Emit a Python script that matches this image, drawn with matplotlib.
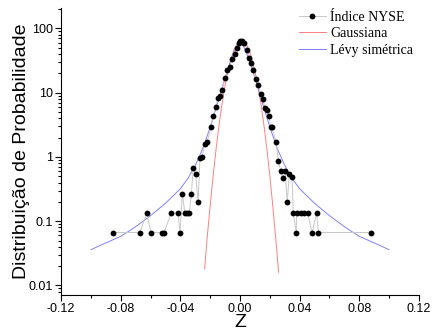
import numpy as np
import matplotlib
matplotlib.use("Agg")
import matplotlib.pyplot as plt
from matplotlib.ticker import FixedLocator, MultipleLocator, LogLocator, NullFormatter

# NYSE index returns: histogram points
z_nyse = [-0.0853, -0.0672, -0.0625, -0.0597, -0.0523, -0.0509, -0.0462, -0.0416,
          -0.0402, -0.0387, -0.0369, -0.0353, -0.0340, -0.0326, -0.0313, -0.0297,
          -0.0281, -0.0268, -0.0255, -0.0235, -0.0220, -0.0194, -0.0179, -0.0163,
          -0.0145, -0.0134, -0.0119, -0.0101, -0.0085, -0.0069, -0.0052, -0.0036,
          -0.0022, -0.0009, 0.0000, 0.0015, 0.0029, 0.0049, 0.0062, 0.0074,
          0.0089, 0.0105, 0.0123, 0.0139, 0.0152, 0.0168, 0.0179, 0.0194,
          0.0206, 0.0214, 0.0241, 0.0257, 0.0273, 0.0286, 0.0302, 0.0317,
          0.0330, 0.0349, 0.0357, 0.0377, 0.0380, 0.0407, 0.0429, 0.0454,
          0.0483, 0.0513, 0.0526, 0.0875]
p_nyse = [0.0667, 0.0667, 0.133, 0.0667, 0.0667, 0.0667, 0.133, 0.133,
          0.0667, 0.267, 0.133, 0.133, 0.133, 0.267, 0.68, 0.54,
          0.2, 0.97, 1.0, 1.58, 1.73, 2.97, 4.35, 6.1,
          8.4, 8.9, 11.0, 16.8, 22.2, 25.5, 33.3, 39.9,
          49.5, 59.0, 64.0, 63.0, 59.0, 46.4, 35.3, 28.7,
          22.6, 16.4, 13.1, 9.6, 8.1, 5.74, 5.4, 4.4,
          2.97, 2.9, 1.73, 0.87, 0.61, 0.47, 0.61, 0.2,
          0.54, 0.48, 0.133, 0.0667, 0.133, 0.133, 0.133, 0.133,
          0.0667, 0.133, 0.0667, 0.0667]

# Gaussian curve, values
z_gauss = [-0.0237, -0.022, -0.020, -0.018, -0.016, -0.014, -0.012, -0.010,
           -0.008, -0.006, -0.004, -0.002, 0.000, 0.002, 0.004, 0.006,
           0.008, 0.010, 0.012, 0.014, 0.016, 0.018, 0.020, 0.022,
           0.024, 0.0259]
p_gauss = [0.018, 0.056, 0.174, 0.51, 1.35, 3.2, 6.8, 12.9,
           22.0, 34.0, 46.7, 57.5, 64.5, 64.0, 57.9, 47.0,
           33.9, 21.6, 12.9, 6.8, 3.19, 1.35, 0.51, 0.17,
           0.053, 0.016]

# symmetric Levy curve
z_levy = [-0.100, -0.090, -0.080, -0.070, -0.060, -0.050, -0.040, -0.035,
          -0.030, -0.025, -0.020, -0.0175, -0.015, -0.0125, -0.010, -0.0075,
          -0.005, -0.0025, 0.000, 0.0025, 0.005, 0.0075, 0.010, 0.0125,
          0.015, 0.0175, 0.020, 0.025, 0.030, 0.035, 0.040, 0.050,
          0.060, 0.070, 0.080, 0.090, 0.100]
p_levy = [0.036, 0.046, 0.058, 0.082, 0.122, 0.19, 0.32, 0.46,
          0.74, 1.35, 2.9, 4.5, 7.0, 11.0, 17.0, 26.0,
          38.0, 52.0, 62.0, 52.0, 38.0, 26.0, 17.0, 11.0,
          7.0, 4.5, 2.9, 1.35, 0.74, 0.46, 0.32, 0.19,
          0.122, 0.082, 0.058, 0.046, 0.036]

x_ticks = [-0.12, -0.08, -0.04, 0.00, 0.04, 0.08, 0.12]
x_labels = ["-0.12", "-0.08", "-0.04", "0.00", "0.04", "0.08", "0.12"]
y_ticks = [0.01, 0.1, 1, 10, 100]
y_labels = ["0.01", "0.1", "1", "10", "100"]

fig = plt.figure(figsize=(4.34, 3.36), dpi=100)
ax = fig.add_axes([0.1406, 0.122, 0.8248, 0.854])

ax.plot(z_nyse, p_nyse, color="#c8c8c8", lw=0.7, marker="o", ms=4.2, mew=0,
        mfc="black", label="Índice NYSE", zorder=3)
ax.plot(z_gauss, p_gauss, color="#ff8080", lw=0.7, label="Gaussiana", zorder=2)
ax.plot(z_levy, p_levy, color="#8080ff", lw=0.7, label="Lévy simétrica", zorder=2)

ax.set_yscale("log")
ax.set_xlim(-0.12, 0.12)
ax.set_ylim(0.0071, 208)

ax.xaxis.set_major_locator(FixedLocator(x_ticks))
ax.set_xticklabels(x_labels)
ax.xaxis.set_minor_locator(MultipleLocator(0.02))
ax.yaxis.set_major_locator(FixedLocator(y_ticks))
ax.set_yticklabels(y_labels)
ax.yaxis.set_minor_locator(LogLocator(base=10, subs=np.arange(2, 10)))
ax.yaxis.set_minor_formatter(NullFormatter())

for lab in ax.get_xticklabels() + ax.get_yticklabels():
    lab.set_family("Liberation Sans")
    lab.set_fontsize(9)
ax.tick_params(which="major", direction="out", length=4, width=0.8, pad=2)
ax.tick_params(which="minor", direction="out", length=2.5, width=0.8)

ax.spines["top"].set_visible(False)
ax.spines["right"].set_visible(False)

ax.set_xlabel("Z", family="Liberation Sans", fontsize=14, labelpad=-1)
ax.set_ylabel("Distribuição de Probabilidade", family="Liberation Sans", fontsize=14, labelpad=-1)

ax.legend(loc="upper right", bbox_to_anchor=(1.0, 1.01), frameon=False,
          prop={"family": "Liberation Serif", "size": 10},
          handlelength=1.9, handletextpad=0.35, labelspacing=0.25, borderaxespad=0.0)

fig.savefig("out.png", dpi=100)
